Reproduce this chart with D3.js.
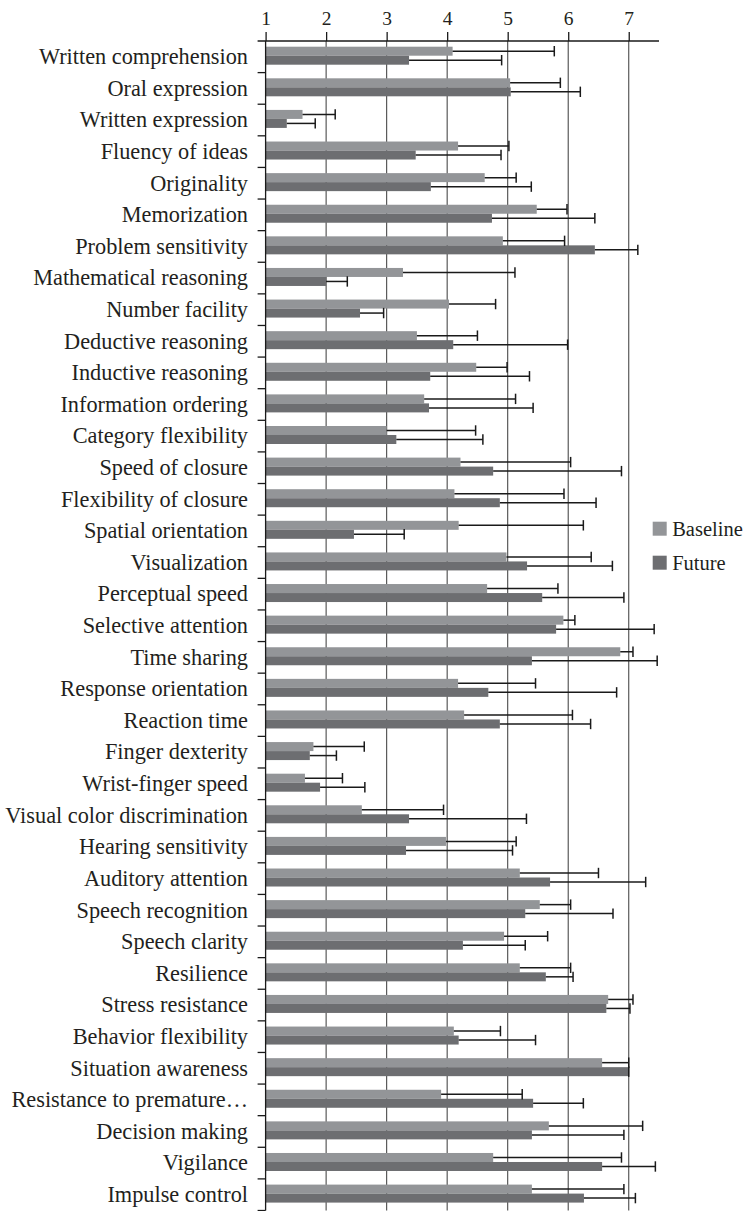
<!DOCTYPE html>
<html>
<head>
<meta charset="utf-8">
<script src="https://cdn.jsdelivr.net/npm/d3@7"></script>
<style>
  html, body { margin: 0; padding: 0; background: #fff; }
  svg { display: block; }
  text { font-family: "Liberation Serif", "DejaVu Serif", serif; fill: #231f20; }
</style>
</head>
<body>
<svg id="chart" width="745" height="1211"></svg>
<script>
// Ability ratings: mean and standard deviation per ability, baseline vs. future
const categories = [
  "Written comprehension", "Oral expression", "Written expression", "Fluency of ideas",
  "Originality", "Memorization", "Problem sensitivity", "Mathematical reasoning",
  "Number facility", "Deductive reasoning", "Inductive reasoning", "Information ordering",
  "Category flexibility", "Speed of closure", "Flexibility of closure", "Spatial orientation",
  "Visualization", "Perceptual speed", "Selective attention", "Time sharing",
  "Response orientation", "Reaction time", "Finger dexterity", "Wrist-finger speed",
  "Visual color discrimination", "Hearing sensitivity", "Auditory attention", "Speech recognition",
  "Speech clarity", "Resilience", "Stress resistance", "Behavior flexibility",
  "Situation awareness", "Resistance to premature…", "Decision making", "Vigilance",
  "Impulse control"
];

const seriesNames = ["Baseline", "Future"];

const baselineMean = [
  4.09, 5.04, 1.61, 4.18, 4.62, 5.48, 4.92, 3.27, 4.03, 3.50, 4.48, 3.62,
  3.00, 4.22, 4.12, 4.19, 4.98, 4.66, 5.92, 6.86, 4.18, 4.28, 1.79, 1.65,
  2.59, 3.98, 5.20, 5.53, 4.94, 5.20, 6.66, 4.11, 6.56, 3.90, 5.68, 4.76,
  5.40
];
const baselineSD = [
  1.68, 0.83, 0.54, 0.84, 0.52, 0.50, 1.02, 1.85, 0.77, 1.00, 0.51, 1.51,
  1.47, 1.82, 1.81, 2.06, 1.40, 1.17, 0.19, 0.21, 1.28, 1.79, 0.84, 0.62,
  1.35, 1.16, 1.30, 0.51, 0.72, 0.84, 0.41, 0.77, 0.44, 1.34, 1.55, 2.12,
  1.52
];
const futureMean = [
  3.37, 5.05, 1.35, 3.48, 3.73, 4.74, 6.44, 2.00, 2.56, 4.10, 3.72, 3.70,
  3.16, 4.76, 4.87, 2.46, 5.32, 5.57, 5.80, 5.40, 4.68, 4.87, 1.73, 1.90,
  3.37, 3.32, 5.70, 5.29, 4.26, 5.63, 6.63, 4.19, 7.00, 5.42, 5.40, 6.56,
  6.26
];
const futureSD = [
  1.53, 1.15, 0.47, 1.41, 1.66, 1.70, 0.71, 0.35, 0.39, 1.89, 1.64, 1.72,
  1.43, 2.12, 1.59, 0.83, 1.41, 1.35, 1.62, 2.07, 2.12, 1.50, 0.44, 0.74,
  1.94, 1.76, 1.58, 1.45, 1.03, 0.45, 0.39, 1.27, 0.00, 0.83, 1.52, 0.88,
  0.85
];
const xTicks = [1, 2, 3, 4, 5, 6, 7];

const colors = { Baseline: "#939598", Future: "#6d6e71" };

const rows = categories.map((name, i) => ({
  name,
  values: [
    { key: "Baseline", mean: baselineMean[i], sd: baselineSD[i] },
    { key: "Future", mean: futureMean[i], sd: futureSD[i] }
  ]
}));

const svg = d3.select("#chart");

const plotTop = 41, plotBottom = 1210.5;
const plotLeft = 265.6, plotRight = 659;

const x = d3.scaleLinear().domain([1, 7.5]).range([plotLeft, plotRight]);
const y = d3.scaleBand().domain(categories).range([plotTop, plotBottom]).padding(0);
const ySub = d3.scaleBand().domain(seriesNames).range([5.7, 23.7]).padding(0);

// vertical gridlines
svg.append("g")
  .selectAll("line")
  .data(xTicks.slice(1))
  .join("line")
  .attr("x1", d => x(d)).attr("x2", d => x(d))
  .attr("y1", plotTop).attr("y2", plotBottom)
  .attr("stroke", "#4a4a4a").attr("stroke-width", 1.1);

// bars
const groups = svg.append("g")
  .selectAll("g")
  .data(rows)
  .join("g")
  .attr("transform", d => `translate(0,${y(d.name)})`);

groups.selectAll("rect")
  .data(d => d.values)
  .join("rect")
  .attr("x", x(1))
  .attr("y", d => ySub(d.key))
  .attr("width", d => x(d.mean) - x(1))
  .attr("height", ySub.bandwidth())
  .attr("fill", d => colors[d.key]);

// error bars (upper side only)
const capHalf = 5.2;
const err = groups.selectAll("g.err")
  .data(d => d.values)
  .join("g")
  .attr("class", "err")
  .attr("stroke", "#1a1a1a")
  .attr("stroke-width", 1.5);

err.append("line")
  .attr("x1", d => x(d.mean))
  .attr("x2", d => x(d.mean + d.sd))
  .attr("y1", d => ySub(d.key) + ySub.bandwidth() / 2)
  .attr("y2", d => ySub(d.key) + ySub.bandwidth() / 2);

err.append("line")
  .attr("x1", d => x(d.mean + d.sd))
  .attr("x2", d => x(d.mean + d.sd))
  .attr("y1", d => ySub(d.key) + ySub.bandwidth() / 2 - capHalf)
  .attr("y2", d => ySub(d.key) + ySub.bandwidth() / 2 + capHalf);

// top axis
const xAxis = d3.axisTop(x)
  .tickValues(xTicks)
  .tickFormat(d3.format("d"))
  .tickSize(9)
  .tickSizeOuter(0);

const gx = svg.append("g")
  .attr("transform", `translate(0,${plotTop})`)
  .call(xAxis);
gx.select(".domain").remove();
gx.append("line")
  .attr("x1", plotLeft - 8).attr("x2", plotRight)
  .attr("y1", 0).attr("y2", 0)
  .attr("stroke", "#1a1a1a").attr("stroke-width", 1.3);
gx.selectAll(".tick line").attr("stroke", "#1a1a1a").attr("stroke-width", 1.3);
gx.selectAll(".tick text")
  .attr("y", -16)
  .style("font-size", "19.5px")
  .style("font-family", "'Liberation Serif', serif")
  .attr("fill", "#231f20");

// left axis: vertical line, boundary ticks and labels
const gy = svg.append("g");
gy.append("line")
  .attr("x1", plotLeft).attr("x2", plotLeft)
  .attr("y1", plotTop).attr("y2", plotBottom)
  .attr("stroke", "#1a1a1a").attr("stroke-width", 1.3);

const boundaries = categories.map(c => y(c) + y.bandwidth());
gy.selectAll("line.tick")
  .data(boundaries)
  .join("line")
  .attr("class", "tick")
  .attr("x1", plotLeft - 8).attr("x2", plotLeft)
  .attr("y1", d => d).attr("y2", d => d)
  .attr("stroke", "#1a1a1a").attr("stroke-width", 1.3);

gy.selectAll("text")
  .data(categories)
  .join("text")
  .attr("x", 248)
  .attr("y", d => y(d) + y.bandwidth() / 2 + 7.3)
  .attr("text-anchor", "end")
  .style("font-size", "22.3px")
  .text(d => d);

// legend
const legend = svg.append("g").attr("transform", "translate(652.7,521.7)");
const li = legend.selectAll("g")
  .data(seriesNames)
  .join("g")
  .attr("transform", (d, i) => `translate(0,${i * 34})`);
li.append("rect")
  .attr("width", 14).attr("height", 14)
  .attr("fill", d => colors[d]);
li.append("text")
  .attr("x", 19.5).attr("y", 14)
  .style("font-size", "20.5px")
  .text(d => d);
</script>
</body>
</html>
